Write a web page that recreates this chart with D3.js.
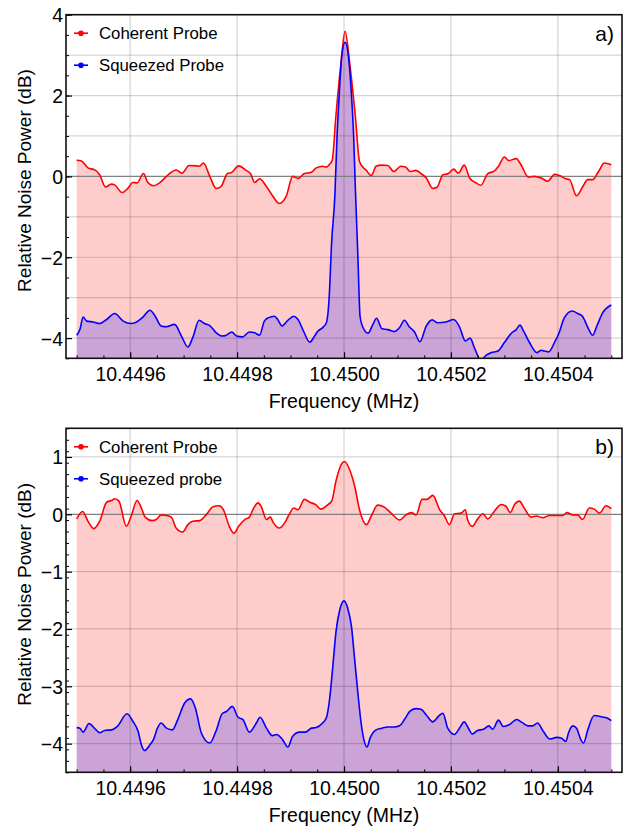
<!DOCTYPE html>
<html><head><meta charset="utf-8">
<script src="https://cdn.jsdelivr.net/npm/d3@7/dist/d3.min.js"></script>
<style>
body{margin:0;background:#fff}
svg{display:block}
text{font-family:"Liberation Sans",Arial,Helvetica,sans-serif;fill:#000}
</style>
</head><body>
<svg id="c" width="625" height="826"></svg>
<script>
// ---------- data (frequency in MHz, relative noise power in dB) ----------
const xTicks = [10.4496, 10.4498, 10.4500, 10.4502, 10.4504];
const xTickLabels = ["10.4496", "10.4498", "10.4500", "10.4502", "10.4504"];
const yTicksA = [4, 2, 0, -2, -4];
const yTicksB = [1, 0, -1, -2, -3, -4];
const seriesNamesA = ["Coherent Probe", "Squeezed Probe"];
const seriesNamesB = ["Coherent Probe", "Squeezed probe"];

const coherentA = [
[10.449500,0.40],[10.449509,0.38],[10.449521,0.21],[10.449534,0.16],[10.449543,0.04],[10.449554,-0.26],
[10.449565,-0.19],[10.449571,-0.21],[10.449585,-0.40],[10.449596,-0.29],[10.449605,-0.15],[10.449613,-0.16],
[10.449625,0.07],[10.449633,-0.15],[10.449644,-0.23],[10.449655,-0.16],[10.449671,0.04],[10.449686,0.16],
[10.449697,0.08],[10.449710,0.27],[10.449724,0.26],[10.449729,0.25],[10.449737,0.33],[10.449749,0.00],
[10.449761,-0.30],[10.449770,-0.25],[10.449782,0.07],[10.449790,0.10],[10.449803,0.26],[10.449817,0.15],
[10.449825,0.07],[10.449833,-0.15],[10.449842,-0.06],[10.449855,-0.25],[10.449867,-0.49],[10.449879,-0.67],
[10.449892,-0.49],[10.449904,0.00],[10.449914,-0.05],[10.449926,0.07],[10.449939,0.10],[10.449948,0.21],
[10.449960,0.25],[10.449967,0.23],[10.449973,0.30],[10.449978,0.40],[10.449985,1.52],[10.449994,2.76],
[10.450002,3.59],[10.450011,2.76],[10.450021,1.52],[10.450029,0.37],[10.450036,0.22],
[10.450041,0.16],[10.450051,0.02],[10.450060,0.25],[10.450070,0.28],[10.450082,0.27],[10.450093,0.12],
[10.450106,0.25],[10.450115,0.23],[10.450124,0.12],[10.450134,0.15],[10.450144,0.07],[10.450154,-0.04],
[10.450166,-0.30],[10.450174,-0.27],[10.450185,0.04],[10.450195,0.07],[10.450205,0.18],[10.450214,0.08],
[10.450225,0.28],[10.450235,-0.04],[10.450247,-0.16],[10.450256,-0.22],[10.450269,0.07],[10.450281,0.13],
[10.450289,0.25],[10.450300,0.48],[10.450308,0.39],[10.450322,0.44],[10.450331,0.29],[10.450345,-0.02],
[10.450356,0.00],[10.450369,-0.04],[10.450381,-0.12],[10.450394,0.05],[10.450403,0.02],[10.450415,-0.06],
[10.450422,-0.08],[10.450435,-0.48],[10.450446,-0.27],[10.450456,-0.08],[10.450465,-0.08],[10.450476,0.12],
[10.450487,0.33],[10.450500,0.29]
];

const squeezedA = [
[10.449500,-3.93],[10.449506,-3.79],[10.449512,-3.48],[10.449519,-3.58],[10.449531,-3.60],[10.449543,-3.64],
[10.449556,-3.54],[10.449571,-3.39],[10.449587,-3.58],[10.449602,-3.64],[10.449612,-3.60],[10.449624,-3.48],
[10.449637,-3.31],[10.449646,-3.44],[10.449658,-3.70],[10.449668,-3.72],[10.449683,-3.66],[10.449696,-3.95],
[10.449708,-4.22],[10.449717,-3.99],[10.449729,-3.56],[10.449739,-3.64],[10.449749,-3.69],[10.449761,-3.87],
[10.449772,-3.95],[10.449780,-3.93],[10.449790,-3.85],[10.449799,-3.95],[10.449810,-3.97],[10.449823,-3.85],
[10.449833,-3.87],[10.449842,-3.93],[10.449851,-3.58],[10.449858,-3.50],[10.449870,-3.46],[10.449876,-3.54],
[10.449884,-3.70],[10.449895,-3.56],[10.449906,-3.46],[10.449914,-3.54],[10.449923,-3.79],[10.449936,-4.10],
[10.449945,-3.95],[10.449951,-3.83],[10.449960,-3.74],[10.449967,-3.62],[10.449972,-3.05],[10.449977,-1.60],
[10.449983,-0.45],[10.449987,1.00],[10.449991,2.00],[10.449996,3.00],[10.450002,3.32],[10.450008,3.00],
[10.450014,2.00],[10.450018,1.00],[10.450021,-0.20],[10.450026,-1.98],[10.450030,-3.46],[10.450035,-3.72],
[10.450045,-3.88],[10.450054,-3.66],
[10.450061,-3.51],[10.450071,-3.77],[10.450082,-3.79],[10.450094,-3.84],[10.450104,-3.74],[10.450113,-3.56],
[10.450122,-3.72],[10.450132,-3.85],[10.450142,-4.09],[10.450154,-3.70],[10.450165,-3.55],[10.450175,-3.62],
[10.450191,-3.60],[10.450205,-3.54],[10.450216,-3.72],[10.450227,-4.07],[10.450236,-4.00],[10.450244,-4.24],
[10.450256,-4.55],[10.450266,-4.42],[10.450275,-4.36],[10.450288,-4.32],[10.450300,-4.11],[10.450313,-3.88],
[10.450322,-3.79],[10.450329,-3.68],[10.450336,-3.83],[10.450347,-4.11],[10.450361,-4.36],[10.450369,-4.30],
[10.450375,-4.32],[10.450383,-4.34],[10.450394,-4.10],[10.450402,-3.88],[10.450412,-3.50],[10.450427,-3.33],
[10.450437,-3.39],[10.450446,-3.46],[10.450458,-3.79],[10.450465,-3.93],[10.450473,-3.70],[10.450484,-3.37],
[10.450500,-3.18]
];

const coherentB = [
[10.449500,-0.08],[10.449511,0.05],[10.449521,-0.12],[10.449532,-0.25],[10.449543,-0.12],[10.449556,0.21],
[10.449565,0.24],[10.449571,0.27],[10.449579,0.23],[10.449593,-0.21],[10.449602,-0.03],[10.449613,0.24],
[10.449621,0.11],[10.449628,-0.05],[10.449641,-0.11],[10.449649,-0.09],[10.449658,-0.01],[10.449668,-0.02],
[10.449677,-0.05],[10.449686,-0.24],[10.449698,-0.31],[10.449708,-0.18],[10.449717,-0.12],[10.449730,-0.11],
[10.449742,-0.01],[10.449755,0.13],[10.449766,0.15],[10.449775,0.07],[10.449785,-0.20],[10.449794,-0.33],
[10.449803,-0.21],[10.449815,-0.09],[10.449823,-0.05],[10.449830,0.09],[10.449839,0.20],[10.449845,0.14],
[10.449855,-0.09],[10.449862,-0.05],[10.449868,-0.15],[10.449879,-0.24],[10.449889,-0.15],[10.449897,-0.01],
[10.449906,0.11],[10.449914,0.08],[10.449926,0.26],[10.449936,0.21],[10.449947,0.17],[10.449957,0.09],
[10.449970,0.17],[10.449977,0.23],[10.449985,0.58],[10.449995,0.87],[10.450001,0.92],[10.450010,0.79],
[10.450020,0.49],[10.450029,0.08],[10.450042,-0.18],[10.450051,-0.03],[10.450063,0.16],[10.450076,0.12],
[10.450088,0.02],[10.450104,-0.10],[10.450116,-0.01],[10.450126,0.03],[10.450135,-0.01],[10.450146,0.26],
[10.450155,0.26],[10.450166,0.33],[10.450179,0.08],[10.450188,-0.03],[10.450197,-0.18],[10.450207,0.01],
[10.450219,0.02],[10.450227,0.08],[10.450231,-0.09],[10.450240,-0.21],[10.450250,-0.08],[10.450260,0.01],
[10.450269,-0.08],[10.450281,0.05],[10.450294,0.17],[10.450303,0.14],[10.450311,0.03],[10.450319,0.17],
[10.450328,0.23],[10.450337,0.11],[10.450350,-0.05],[10.450360,-0.03],[10.450372,-0.06],[10.450384,-0.02],
[10.450397,-0.02],[10.450409,-0.02],[10.450417,0.03],[10.450428,-0.01],[10.450437,-0.01],[10.450446,-0.09],
[10.450459,0.11],[10.450468,0.09],[10.450478,0.02],[10.450490,0.15],[10.450500,0.10]
];

const squeezedB = [
[10.449500,-3.72],[10.449506,-3.73],[10.449512,-3.80],[10.449523,-3.65],[10.449534,-3.74],[10.449543,-3.81],
[10.449552,-3.77],[10.449565,-3.76],[10.449577,-3.69],[10.449594,-3.48],[10.449605,-3.61],[10.449615,-3.79],
[10.449621,-4.02],[10.449627,-4.12],[10.449637,-4.02],[10.449644,-3.92],[10.449651,-3.73],[10.449658,-3.64],
[10.449668,-3.73],[10.449679,-3.76],[10.449689,-3.58],[10.449702,-3.29],[10.449713,-3.22],[10.449722,-3.38],
[10.449733,-3.81],[10.449749,-3.99],[10.449761,-3.77],[10.449772,-3.48],[10.449780,-3.44],[10.449791,-3.35],
[10.449802,-3.54],[10.449811,-3.58],[10.449823,-3.80],[10.449836,-3.64],[10.449843,-3.54],[10.449855,-3.73],
[10.449866,-3.86],[10.449874,-3.84],[10.449885,-3.93],[10.449895,-4.06],[10.449904,-3.87],[10.449917,-3.80],
[10.449928,-3.80],[10.449939,-3.73],[10.449948,-3.72],[10.449960,-3.64],[10.449967,-3.55],[10.449973,-3.23],
[10.449979,-2.66],[10.449985,-2.05],[10.449992,-1.67],[10.450000,-1.51],[10.450007,-1.64],[10.450014,-1.96],
[10.450020,-2.54],[10.450026,-3.12],[10.450032,-3.64],[10.450038,-3.96],[10.450043,-4.06],[10.450049,-3.90],
[10.450060,-3.76],[10.450071,-3.73],[10.450082,-3.71],[10.450094,-3.71],[10.450104,-3.69],[10.450113,-3.58],
[10.450124,-3.43],[10.450135,-3.39],[10.450144,-3.40],[10.450154,-3.50],[10.450166,-3.62],[10.450177,-3.52],
[10.450185,-3.47],[10.450194,-3.73],[10.450207,-3.84],[10.450216,-3.73],[10.450225,-3.62],[10.450231,-3.70],
[10.450240,-3.83],[10.450250,-3.77],[10.450261,-3.75],[10.450271,-3.69],[10.450278,-3.75],[10.450289,-3.59],
[10.450298,-3.70],[10.450309,-3.67],[10.450323,-3.58],[10.450333,-3.63],[10.450344,-3.69],[10.450353,-3.69],
[10.450362,-3.64],[10.450373,-3.79],[10.450385,-3.92],[10.450398,-3.89],[10.450406,-3.90],[10.450415,-3.96],
[10.450420,-3.81],[10.450428,-3.69],[10.450435,-3.73],[10.450443,-3.93],[10.450448,-3.99],[10.450456,-3.76],
[10.450468,-3.51],[10.450481,-3.53],[10.450491,-3.55],[10.450500,-3.60]
];

// ---------- drawing ----------
const svg = d3.select("#c");
const L = 66, R = 622;
const FONT = '"Liberation Sans",Arial,sans-serif';
const x = d3.scaleLinear().domain([10.44948, 10.45052]).range([L, R]);
const fmtMinus = v => (v < 0 ? "\u2212" + Math.abs(v) : String(v));

const panels = [
  {top:14.7, bottom:358.3, dom:[-4.5,4], ticks:yTicksA, minorStep:0.5, coh:coherentA, sq:squeezedA,
   names:seriesNamesA, tag:"a)", xTitleY:408},
  {top:428.3, bottom:772.3, dom:[-4.5,1.5], ticks:yTicksB, minorStep:0.2, coh:coherentB, sq:squeezedB,
   names:seriesNamesB, tag:"b)", xTitleY:822}
];

panels.forEach((p, i) => {
  const y = d3.scaleLinear().domain(p.dom).range([p.bottom, p.top]);
  const g = svg.append("g");
  const cid = "clip" + i;
  svg.append("clipPath").attr("id", cid).append("rect")
    .attr("x", L).attr("y", p.top).attr("width", R - L).attr("height", p.bottom - p.top);
  const plot = g.append("g").attr("clip-path", `url(#${cid})`);

  const area = d3.area().x(d => x(d[0])).y0(p.bottom).y1(d => y(d[1])).curve(d3.curveMonotoneX);
  const line = d3.line().x(d => x(d[0])).y(d => y(d[1])).curve(d3.curveMonotoneX);

  plot.append("path").attr("d", area(p.coh)).attr("fill", "rgb(255,0,0)").attr("fill-opacity", 0.2);
  plot.append("path").attr("d", area(p.sq)).attr("fill", "rgb(0,0,255)").attr("fill-opacity", 0.2);

  // grid
  const yGrid = d3.range(Math.ceil(p.dom[0]), Math.floor(p.dom[1]) + 1).filter(v => v !== 0);
  plot.selectAll(".hg").data(yGrid).join("line")
    .attr("x1", L).attr("x2", R).attr("y1", d => y(d)).attr("y2", d => y(d))
    .attr("stroke", "#000").attr("stroke-opacity", 0.17).attr("stroke-width", 1.2);
  plot.selectAll(".vg").data(xTicks).join("line")
    .attr("x1", d => x(d)).attr("x2", d => x(d)).attr("y1", p.top).attr("y2", p.bottom)
    .attr("stroke", "#000").attr("stroke-opacity", 0.17).attr("stroke-width", 1.2);
  // zero axis
  plot.append("line").attr("x1", L).attr("x2", R).attr("y1", y(0)).attr("y2", y(0))
    .attr("stroke", "#808080").attr("stroke-width", 1.3);

  plot.append("path").attr("d", line(p.coh)).attr("fill", "none").attr("stroke", "#ff0000").attr("stroke-width", 1.6);
  plot.append("path").attr("d", line(p.sq)).attr("fill", "none").attr("stroke", "#0000ff").attr("stroke-width", 1.6);

  // minor ticks (inward)
  const yMinor = d3.range(p.dom[0], p.dom[1] + 1e-9, p.minorStep).map(v => +v.toFixed(2));
  g.append("g").attr("transform", `translate(${L},0)`)
    .call(d3.axisRight(y).tickValues(yMinor).tickSize(3).tickFormat(""))
    .call(a => a.select(".domain").remove())
    .call(a => a.selectAll("line").attr("stroke", "#000").attr("stroke-width", 1));
  const xMinor = d3.range(0, 21).map(k => +(10.4495 + k * 0.00005).toFixed(6));
  g.append("g").attr("transform", `translate(0,${p.bottom})`)
    .call(d3.axisTop(x).tickValues(xMinor).tickSize(3).tickFormat(""))
    .call(a => a.select(".domain").remove())
    .call(a => a.selectAll("line").attr("stroke", "#000").attr("stroke-width", 1));

  // major ticks + labels
  const yAx = g.append("g").attr("transform", `translate(${L},0)`)
    .call(d3.axisRight(y).tickValues(p.ticks).tickSize(6).tickFormat(fmtMinus));
  yAx.select(".domain").remove();
  yAx.selectAll("line").attr("stroke", "#000").attr("stroke-width", 1.2);
  yAx.selectAll("text").attr("x", -3).attr("text-anchor", "end").attr("dy", "0.36em")
    .style("font-size", "19.5px").style("font-family", FONT);

  const xAx = g.append("g").attr("transform", `translate(0,${p.bottom})`)
    .call(d3.axisTop(x).tickValues(xTicks).tickSize(6).tickFormat((d, k) => xTickLabels[k]));
  xAx.select(".domain").remove();
  xAx.selectAll("line").attr("stroke", "#000").attr("stroke-width", 1.2);
  xAx.selectAll("text").attr("y", 23).attr("dy", 0).attr("text-anchor", "middle")
    .style("font-size", "19.5px").style("font-family", FONT);

  // frame
  g.append("rect").attr("x", L).attr("y", p.top).attr("width", R - L).attr("height", p.bottom - p.top)
    .attr("fill", "none").attr("stroke", "#111").attr("stroke-width", 1.6);

  // titles
  g.append("text").attr("x", (L + R) / 2).attr("y", p.xTitleY).attr("text-anchor", "middle")
    .style("font-size", "19.5px").text("Frequency (MHz)");
  const cy = (p.top + p.bottom) / 2 - 6;
  g.append("text").attr("transform", `translate(31,${cy}) rotate(-90)`).attr("text-anchor", "middle")
    .style("font-size", "19px").text("Relative Noise Power (dB)");

  // legend
  const colors = ["#ff0000", "#0000ff"];
  const ly = [p.top + 18.5, p.top + 50.5];
  p.names.forEach((nm, k) => {
    g.append("line").attr("x1", 74).attr("x2", 88).attr("y1", ly[k]).attr("y2", ly[k])
      .attr("stroke", colors[k]).attr("stroke-width", 1.6);
    g.append("circle").attr("cx", 81).attr("cy", ly[k]).attr("r", 2.8).attr("fill", colors[k]);
    g.append("text").attr("x", 99).attr("y", ly[k]).attr("dy", "0.36em").style("font-size", "16.8px").text(nm);
  });
  g.append("text").attr("x", 614).attr("y", p.top + 18.5).attr("dy", "0.36em").attr("text-anchor", "end")
    .style("font-size", "21px").text(p.tag);
});
</script>
</body></html>
